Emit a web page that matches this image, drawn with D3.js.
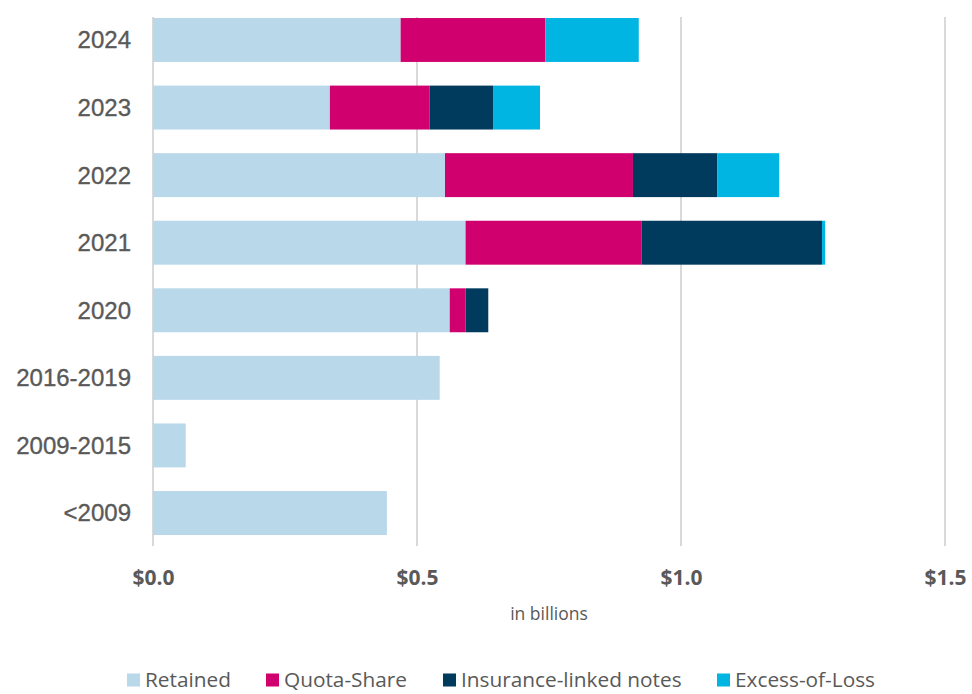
<!DOCTYPE html>
<html><head><meta charset="utf-8">
<script src="https://cdn.jsdelivr.net/npm/d3@7"></script>
<style>html,body{margin:0;padding:0;background:#fff;}</style>
</head><body>
<svg id="c" width="972" height="694"></svg>
<script>
const categories = ["2024","2023","2022","2021","2020","2016-2019","2009-2015","<2009"];
const seriesNames = ["Retained","Quota-Share","Insurance-linked notes","Excess-of-Loss"];
const retained = [0.469,0.335,0.553,0.592,0.562,0.543,0.062,0.443];
const quotaShare = [0.274,0.189,0.356,0.333,0.030,0,0,0];
const insuranceLinked = [0,0.120,0.160,0.342,0.043,0,0,0];
const excessOfLoss = [0.177,0.089,0.117,0.006,0,0,0,0];
const xTicks = [0,0.5,1.0,1.5];
const colors = ["#b9d8ea","#d0006f","#003a5d","#00b5e2"];

const svg = d3.select("#c");
const x = d3.scaleLinear().domain([0,1.5]).range([153,945]);
const y = d3.scaleBand().domain(categories).range([6.2,546.8]).paddingInner(0.35).paddingOuter(0.175);

const rows = categories.map((c,i)=>({cat:c, "Retained":retained[i], "Quota-Share":quotaShare[i], "Insurance-linked notes":insuranceLinked[i], "Excess-of-Loss":excessOfLoss[i]}));
const stack = d3.stack().keys(seriesNames)(rows);

// gridlines
svg.append("g").selectAll("line").data(xTicks).join("line")
  .attr("x1",d=>x(d)).attr("x2",d=>x(d)).attr("y1",17).attr("y2",546)
  .attr("stroke","#d9d9d9").attr("stroke-width",2);

// bars
svg.append("g").selectAll("g").data(stack).join("g")
  .attr("fill",(d,i)=>colors[i])
  .selectAll("rect").data(d=>d.filter(s=>s[1]-s[0]>0)).join("rect")
  .attr("x",d=>x(d[0])).attr("width",d=>x(d[1])-x(d[0]))
  .attr("y",d=>y(d.data.cat)).attr("height",y.bandwidth());

// x axis
const xa = svg.append("g").attr("transform","translate(0,578)")
  .call(d3.axisBottom(x).tickValues(xTicks).tickSize(0).tickFormat(d=>"$"+d3.format(".1f")(d)));
xa.select(".domain").remove();
xa.selectAll("text").attr("dy","0.35em").attr("y",0)
  .attr("font-family","'Open Sans',sans-serif").attr("font-weight","bold")
  .attr("font-size",21).attr("fill","#595959");

// y axis
const ya = svg.append("g").attr("transform","translate(131,0)")
  .call(d3.axisLeft(y).tickSize(0).tickPadding(0));
ya.select(".domain").remove();
ya.selectAll("text").attr("font-family","'Liberation Sans',Arial,sans-serif")
  .attr("font-size",24).attr("fill","#595959").attr("stroke","#595959").attr("stroke-width",0.35).attr("dy","0.35em");

// axis title
svg.append("text").attr("x",549).attr("y",614).attr("text-anchor","middle").attr("dy","0.35em")
  .attr("font-family","'Open Sans',sans-serif").attr("font-size",17.5).attr("fill","#595959")
  .text("in billions");

// legend
const legX = [127,266,443,717];
const lg = svg.append("g").selectAll("g").data(seriesNames).join("g")
  .attr("transform",(d,i)=>`translate(${legX[i]},680)`);
lg.append("rect").attr("x",0).attr("y",-6.5).attr("width",13).attr("height",13).attr("fill",(d,i)=>colors[i]);
lg.append("text").attr("x",18).attr("dy","0.35em")
  .attr("font-family","'Open Sans',sans-serif").attr("font-size",20.8).attr("fill","#595959")
  .text(d=>d);
</script>
</body></html>
